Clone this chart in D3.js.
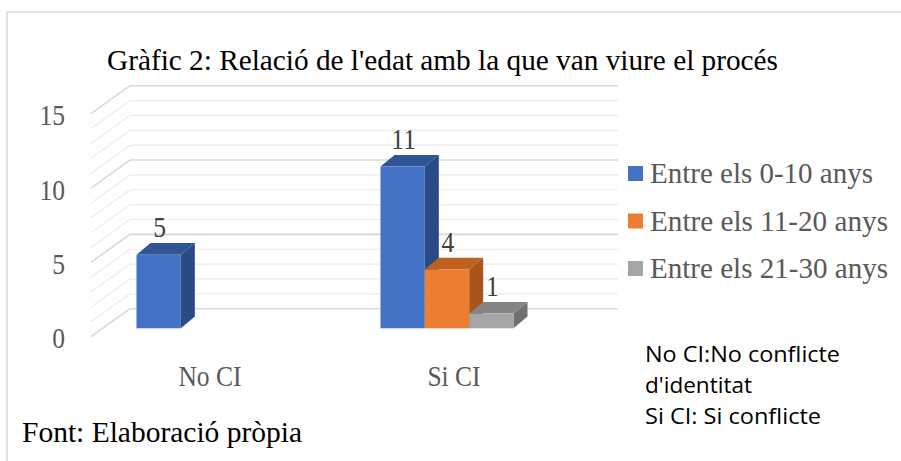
<!DOCTYPE html>
<html lang="ca">
<head>
<meta charset="UTF-8">
<title>Gràfic 2</title>
<script src="https://d3js.org/d3.v7.min.js"></script>
<style>
  body { margin: 0; background: #fff; }
  svg { display: block; }
  .serif { font-family: "Liberation Serif", "Times New Roman", serif; }
  .sans { font-family: "Open Sans", "Liberation Sans", sans-serif; }
</style>
</head>
<body>
<svg id="chart" width="901" height="461"></svg>
<script>
// data
const categories = ["No CI", "Si CI"];
const seriesNames = ["Entre els 0-10 anys", "Entre els 11-20 anys", "Entre els 21-30 anys"];
const values0to10 = [5, 11];
const values11to20 = [null, 4];
const values21to30 = [null, 1];
const yTicks = [0, 5, 10, 15];
const noteLines = ["No CI:No conflicte", "d'identitat", "Si CI: Si conflicte"];

const seriesValues = [values0to10, values11to20, values21to30];
const faceColors = [
  { front: "#4472c4", top: "#2f5597", side: "#2a4a86" },
  { front: "#ed7d31", top: "#c0601f", side: "#a9541a" },
  { front: "#a5a5a5", top: "#848484", side: "#6f6f6f" }
];

const svg = d3.select("#chart");

// the picture is a bit squashed sideways, so serif text gets narrowed
function squeeze(sel, k) {
  sel.each(function () {
    const w = this.getComputedTextLength();
    d3.select(this).attr("textLength", w * k).attr("lengthAdjust", "spacingAndGlyphs");
  });
}
// stretch/shrink a text to a measured width
function fitTo(sel, w) {
  sel.attr("textLength", w).attr("lengthAdjust", "spacingAndGlyphs");
}

// frame (only top and left edges show)
svg.append("path")
  .attr("d", "M7,461 V12 H901")
  .attr("fill", "none")
  .attr("stroke", "#d9d9d9")
  .attr("stroke-width", 1.5);

// 3D set-up
const depthX = 39, depthY = -28;     // floor depth (front -> back wall)
const barDX = 14, barDY = -11.7;     // depth of each bar
const wallLeft = 130, wallRight = 618;

const yBack = d3.scaleLinear().domain([0, 15]).range([308.7, 85.7]);
const yFront = d3.scaleLinear().domain([0, 15]).range([308.7 - depthY, 85.7 - depthY]);
const yBar = d3.scaleLinear().domain([0, 15]).range([328.3, 107.8]);

const x = d3.scaleBand().domain(categories).range([81, 569]);
const xSub = d3.scaleBand().domain(seriesNames).range([0, 133]);

// gridlines on back wall and side wall
const grid = svg.append("g");
d3.range(0, 16).forEach(v => {
  const major = v % 5 === 0;
  const c = major ? "#d9d9d9" : "#ebebeb";
  const w = major ? 1.6 : 1.2;
  grid.append("line")
    .attr("x1", wallLeft).attr("x2", wallRight)
    .attr("y1", yBack(v)).attr("y2", yBack(v))
    .attr("stroke", c).attr("stroke-width", w);
  grid.append("line")
    .attr("x1", wallLeft - depthX).attr("y1", yFront(v))
    .attr("x2", wallLeft).attr("y2", yBack(v))
    .attr("stroke", c).attr("stroke-width", w);
});

// y axis labels
const yAxis = svg.append("g")
  .attr("transform", "translate(66,2)")
  .call(d3.axisLeft(yFront).tickValues(yTicks).tickSize(0).tickPadding(1))
  .call(g => g.select(".domain").remove());
yAxis.selectAll("text")
  .attr("class", "serif")
  .attr("font-size", 29)
  .attr("fill", "#595959");
squeeze(yAxis.selectAll("text"), 0.88);

// bars
const bars = [];
seriesValues.forEach((vals, si) => {
  vals.forEach((v, ci) => {
    if (v == null) return;
    bars.push({ si, ci, v, x0: x(categories[ci]) + x.bandwidth() / 2 - 66.5 + xSub(seriesNames[si]) });
  });
});
bars.sort((a, b) => a.ci - b.ci || a.si - b.si);

const barG = svg.append("g");
bars.forEach(b => {
  const col = faceColors[b.si];
  const x0 = b.x0, x1 = b.x0 + xSub.bandwidth();
  const yt = yBar(b.v), yb = yBar(0);
  barG.append("path")
    .attr("d", `M${x1},${yt} L${x1 + barDX},${yt + barDY} L${x1 + barDX},${yb + barDY} L${x1},${yb} Z`)
    .attr("fill", col.side);
  barG.append("path")
    .attr("d", `M${x0},${yt} L${x0 + barDX},${yt + barDY} L${x1 + barDX},${yt + barDY} L${x1},${yt} Z`)
    .attr("fill", col.top);
  barG.append("rect")
    .attr("x", x0).attr("y", yt)
    .attr("width", x1 - x0).attr("height", yb - yt)
    .attr("fill", col.front);
});

// data labels
const labels = svg.append("g").selectAll("text")
  .data(bars)
  .join("text")
  .attr("class", "serif")
  .attr("x", d => d.x0 + xSub.bandwidth() / 2 + 1)
  .attr("y", d => yBar(d.v) + barDY - 6)
  .attr("text-anchor", "middle")
  .attr("font-size", 29)
  .attr("fill", "#404040")
  .text(d => d.v);
squeeze(labels, 0.88);

// category labels
const catLabels = svg.append("g").selectAll("text")
  .data(categories)
  .join("text")
  .attr("class", "serif")
  .attr("x", d => x(d) + x.bandwidth() / 2 + 7)
  .attr("y", 386)
  .attr("text-anchor", "middle")
  .attr("font-size", 29)
  .attr("fill", "#595959")
  .text(d => d);
squeeze(catLabels, 0.88);

// title
svg.append("text")
  .attr("class", "serif")
  .attr("x", 107).attr("y", 70)
  .attr("font-size", 29)
  .attr("fill", "#000")
  .text("Gràfic 2: Relació de l'edat amb la que van viure el procés")
  .call(fitTo, 671);

// legend
const legendWidths = [223, 238, 238];
const legend = svg.append("g").attr("transform", "translate(628,166)");
seriesNames.forEach((s, i) => {
  const row = legend.append("g").attr("transform", `translate(0,${i * 47.5})`);
  row.append("rect").attr("width", 15).attr("height", 15).attr("fill", faceColors[i].front);
  row.append("text")
    .attr("class", "serif")
    .attr("x", 22).attr("y", 17)
    .attr("font-size", 29)
    .attr("fill", "#595959")
    .text(s)
    .call(fitTo, legendWidths[i]);
});

// source
svg.append("text")
  .attr("class", "serif")
  .attr("x", 22).attr("y", 442)
  .attr("font-size", 29)
  .attr("fill", "#000")
  .text("Font: Elaboració pròpia")
  .call(fitTo, 280);

// note about abbreviations
const noteWidths = [195, 107, 176];
svg.append("g").selectAll("text")
  .data(noteLines)
  .join("text")
  .attr("class", "sans")
  .attr("x", 645)
  .attr("y", (d, i) => 362 + i * 31)
  .attr("font-size", 21)
  .attr("fill", "#000")
  .text(d => d)
  .each(function (d, i) { d3.select(this).call(fitTo, noteWidths[i]); });
</script>
</body>
</html>
